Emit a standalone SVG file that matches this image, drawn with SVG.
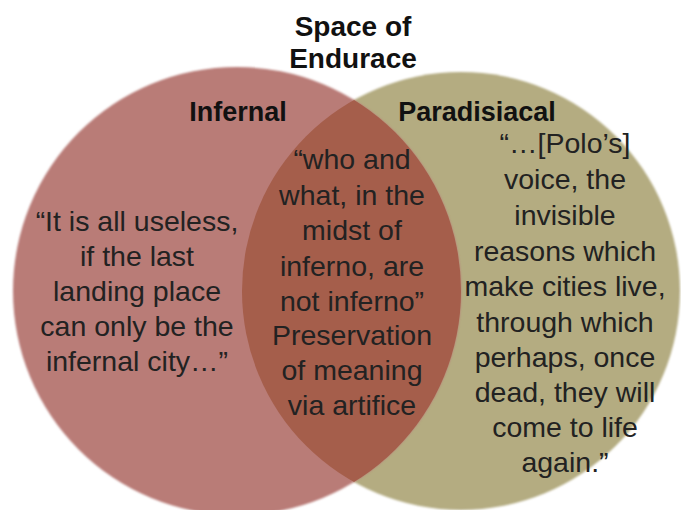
<svg xmlns="http://www.w3.org/2000/svg" width="681" height="510" viewBox="0 0 681 510">
  <defs>
    <clipPath id="clip-infernal">
      <circle cx="237" cy="291" r="224"/>
    </clipPath>
    <filter id="soft" x="-5%" y="-5%" width="110%" height="110%">
      <feGaussianBlur stdDeviation="0.8"/>
    </filter>
  </defs>
  <style>
    .title { font-family: "Liberation Sans", Arial, sans-serif; font-weight: bold; font-size: 28px; fill: #111; text-anchor: middle; }
    .label { font-family: "Liberation Sans", Arial, sans-serif; font-weight: bold; font-size: 27px; fill: #111; text-anchor: middle; }
    .body { font-family: "Liberation Sans", Arial, sans-serif; font-size: 28.5px; fill: #222; text-anchor: middle; }
  </style>
  <rect width="681" height="510" fill="#ffffff"/>

  <!-- Right set: Paradisiacal -->
  <g id="paradisiacal">
    <circle cx="461" cy="291" r="219" fill="#b4ac81" filter="url(#soft)"/>
  </g>

  <!-- Left set: Infernal -->
  <g id="infernal">
    <circle cx="237" cy="291" r="224" fill="#b97b77" filter="url(#soft)"/>
  </g>

  <!-- Intersection of the two sets -->
  <g id="endurance-overlap">
    <circle cx="461" cy="291" r="219" fill="#a55e4b" clip-path="url(#clip-infernal)"/>
  </g>

  <!-- Title -->
  <g id="title">
    <text class="title" x="353" y="36">Space of</text>
    <text class="title" x="353" y="68">Endurace</text>
  </g>

  <!-- Set labels -->
  <g id="labels">
    <text class="label" x="238" y="121">Infernal</text>
    <text class="label" x="477" y="121">Paradisiacal</text>
  </g>

  <!-- Infernal quote -->
  <g id="infernal-text" class="body">
    <text class="body" x="137" y="231">“It is all useless,</text>
    <text class="body" x="137" y="266">if the last</text>
    <text class="body" x="137" y="301">landing place</text>
    <text class="body" x="137" y="336">can only be the</text>
    <text class="body" x="137" y="371">infernal city…”</text>
  </g>

  <!-- Overlap text -->
  <g id="overlap-text">
    <text class="body" x="352" y="169">“who and</text>
    <text class="body" x="352" y="205">what, in the</text>
    <text class="body" x="352" y="240">midst of</text>
    <text class="body" x="352" y="276">inferno, are</text>
    <text class="body" x="352" y="311">not inferno”</text>
    <text class="body" x="352" y="345">Preservation</text>
    <text class="body" x="352" y="380">of meaning</text>
    <text class="body" x="352" y="415">via artifice</text>
  </g>

  <!-- Paradisiacal quote -->
  <g id="paradisiacal-text">
    <text class="body" x="565" y="153">“…[Polo’s]</text>
    <text class="body" x="565" y="189">voice, the</text>
    <text class="body" x="565" y="225">invisible</text>
    <text class="body" x="565" y="261">reasons which</text>
    <text class="body" x="565" y="296">make cities live,</text>
    <text class="body" x="565" y="332">through which</text>
    <text class="body" x="565" y="367">perhaps, once</text>
    <text class="body" x="565" y="402">dead, they will</text>
    <text class="body" x="565" y="437">come to life</text>
    <text class="body" x="565" y="472">again.”</text>
  </g>
</svg>
